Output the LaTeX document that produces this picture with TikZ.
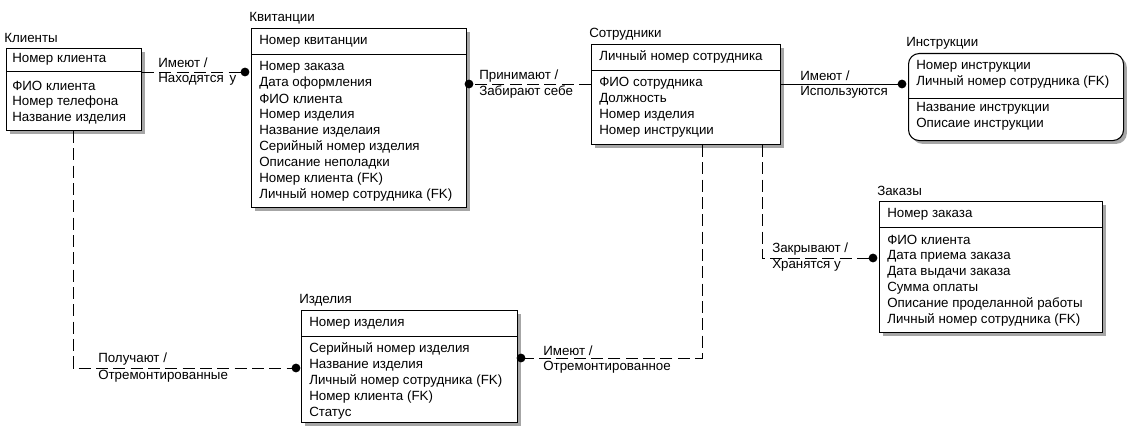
\documentclass[tikz,border=0pt]{standalone}
\usepackage{fontspec}
\setmainfont{Liberation Sans}
\usetikzlibrary{shadows}
\begin{document}
\begin{tikzpicture}[x=0.75pt,y=-0.75pt,
  ent/.style={draw,line width=0.8pt,fill=white,anchor=north west,inner sep=0,
    drop shadow={shadow xshift=2.5pt,shadow yshift=-2.5pt,fill=gray!70,opacity=1}},
  rel/.style={dashed,dash pattern=on 9pt off 4pt,line width=0.7pt},
  srel/.style={line width=0.7pt},
  tx/.style={anchor=west,inner sep=0,font=\fontsize{10}{12}\selectfont}]
\useasboundingbox (0,0) rectangle (1131,435);
\newcommand\ent[8]{% name, title, x1,y1,x2,y2,divider y, options
  \node[tx] at (#3-2,#4-10) {#2};
  \node[ent,minimum width=(#5-#3)*0.75pt,minimum height=(#6-#4)*0.75pt,#8] (#1) at (#3,#4) {};
  \draw[line width=0.7pt] (#3,#7) -- (#5,#7);}
\newcommand\rows[3]{% x, start y, list
  \foreach \t [count=\i from 0] in {#3} {\node[tx] at (#1,#2+16*\i) {\t};}}
% Клиенты
\ent{kl}{Клиенты}{6}{48}{141}{130}{71}{}
\rows{12}{59}{Номер клиента}
\rows{12}{86}{ФИО клиента,Номер телефона,Название изделия}
% Квитанции
\ent{kv}{Квитанции}{251}{28}{466}{207}{54}{}
\rows{259}{41}{Номер квитанции}
\rows{259}{67}{Номер заказа,Дата оформления,ФИО клиента,Номер изделия,Название изделаия,Серийный номер изделия,Описание неполадки,Номер клиента (FK),Личный номер сотрудника (FK)}
% Сотрудники
\ent{so}{Сотрудники}{591}{44}{780}{144}{70}{}
\rows{599}{57}{Личный номер сотрудника}
\rows{599}{83}{ФИО сотрудника,Должность,Номер изделия,Номер инструкции}
% Инструкции
\ent{in}{Инструкции}{908}{53}{1123}{140}{98}{rounded corners=8pt}
\rows{916}{66}{Номер инструкции,Личный номер сотрудника (FK)}
\rows{916}{108}{Название инструкции,Описаие инструкции}
% Заказы
\ent{za}{Заказы}{879}{201}{1102}{332}{227}{}
\rows{887}{214}{Номер заказа}
\rows{887}{240}{ФИО клиента,Дата приема заказа,Дата выдачи заказа,Сумма оплаты,Описание проделанной работы,Личный номер сотрудника (FK)}
% Изделия
\ent{iz}{Изделия}{301}{310}{517}{422}{336}{}
\rows{309}{323}{Номер изделия}
\rows{309}{349}{Серийный номер изделия,Название изделия,Личный номер сотрудника (FK),Номер клиента (FK),Статус}
% connectors
\coordinate (c1) at (73,368);
\coordinate (c2) at (762,258);
\coordinate (c3) at (702,358);
\draw[rel] (kl.east |- 0,72) -- (245,72);
\fill (245,72) circle (3.3pt);
\draw[rel] (so.west |- 0,84) -- (469,84);
\fill (469,84) circle (3.3pt);
\draw[srel] (so.east |- 0,84) -- (902,84);
\fill (902,84) circle (3.3pt);
\draw[rel] (kl.south -| c1) -- (c1) -- (296,368);
\fill (296,368) circle (3.3pt);
\draw[rel] (so.south -| c3) -- (c3) -- (521,358);
\fill (521,358) circle (3.3pt);
\draw[rel] (so.south -| c2) -- (c2) -- (873,258);
\fill (873,258) circle (3.3pt);
% labels
\node[tx] at (158,63) {Имеют /};
\node[tx] at (158,79) {Находятся\, у};
\node[tx] at (479,76) {Принимают /};
\node[tx] at (479,92) {Забирают себе};
\node[tx] at (800,76) {Имеют /};
\node[tx] at (800,92) {Используются};
\node[tx] at (772,249) {Закрывают /};
\node[tx] at (772,265) {Хранятся у};
\node[tx] at (98,359) {Получают /};
\node[tx] at (98,376) {Отремонтированные};
\node[tx] at (543,351) {Имеют /};
\node[tx] at (543,367) {Отремонтированное};
\end{tikzpicture}
\end{document}
